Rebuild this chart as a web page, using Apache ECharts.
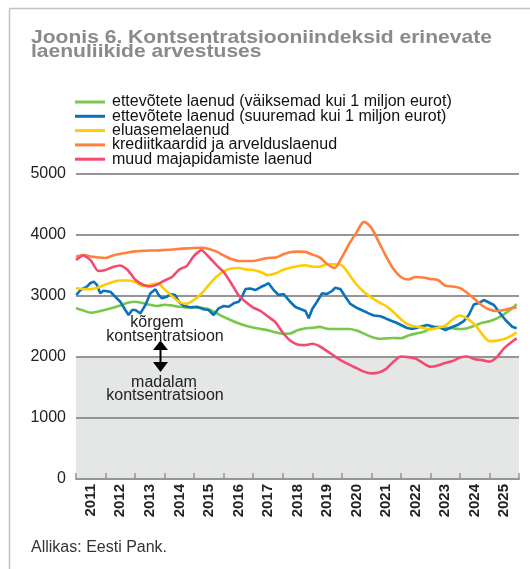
<!DOCTYPE html>
<html><head><meta charset="utf-8">
<script src="https://cdn.jsdelivr.net/npm/echarts@6/dist/echarts.min.js"></script>
<style>html,body{margin:0;padding:0;background:#fff}#c{width:530px;height:569px}</style>
</head><body><div id="c"></div>
<script>
const FONT = '"Liberation Sans", Arial, Helvetica, sans-serif';
const yearLabels = ['2011','2012','2013','2014','2015','2016','2017','2018','2019','2020','2021','2022','2023','2024','2025'];
const quarterDates = [2011.00,2011.25,2011.50,2011.75,2012.00,2012.25,2012.50,2012.75,2013.00,2013.25,2013.50,2013.75,
  2014.00,2014.25,2014.50,2014.75,2015.00,2015.25,2015.50,2015.75,2016.00,2016.25,2016.50,2016.75,
  2017.00,2017.25,2017.50,2017.75,2018.00,2018.25,2018.50,2018.75,2019.00,2019.25,2019.50,2019.75,
  2020.00,2020.25,2020.50,2020.75,2021.00,2021.25,2021.50,2021.75,2022.00,2022.25,2022.50,2022.75,
  2023.00,2023.25,2023.50,2023.75,2024.00,2024.25,2024.50,2024.75,2025.00,2025.25,2025.50,2025.75,2025.92];
const smallFirms = [2798,2762,2726,2745,2775,2808,2844,2890,2905,2885,2855,2836,2857,2844,2823,2814,2814,2806,2782,2721,
  2658,2603,2553,2514,2483,2460,2437,2406,2379,2386,2437,2468,2478,2494,2463,2458,2458,2458,2433,2384,
  2330,2300,2305,2312,2307,2351,2383,2409,2466,2494,2483,2470,2458,2473,2514,2560,2586,2634,2704,2790,2864];
const housing = [3126,3115,3112,3140,3189,3230,3254,3254,3230,3164,3181,3205,3110,3000,2901,2874,2938,3041,3181,3312,
  3402,3452,3460,3435,3427,3394,3345,3369,3427,3463,3489,3504,3484,3479,3520,3520,3501,3353,3189,3066,
  2975,2901,2836,2737,2622,2532,2499,2479,2450,2479,2516,2614,2680,2630,2532,2376,2261,2269,2294,2351,2404];
const cards = [3645,3673,3649,3632,3624,3665,3690,3714,3731,3739,3747,3747,3755,3763,3772,3780,3788,3791,3772,3731,
  3665,3607,3575,3575,3575,3599,3624,3629,3681,3717,3727,3723,3681,3632,3525,3460,3632,3854,4043,4215,
  4117,3887,3649,3443,3312,3271,3312,3304,3279,3263,3172,3156,3131,3049,2951,2844,2778,2754,2770,2803,2808];
const otherHousehold = [3591,3665,3583,3410,3427,3476,3501,3427,3271,3189,3156,3189,3254,3312,3435,3493,3660,3750,3640,3509,
  3394,3213,3016,2901,2811,2754,2663,2573,2401,2269,2204,2195,2217,2176,2097,2015,1938,1875,1818,1760,
  1731,1744,1805,1924,2007,1998,1974,1900,1839,1859,1900,1933,1990,2007,1962,1949,1924,1998,2146,2245,2305];
const largeFirmDates = [2011.01,2011.15,2011.37,2011.48,2011.60,2011.71,2011.77,2011.82,2011.93,2012.16,2012.27,2012.50,
  2012.67,2012.78,2012.90,2013.01,2013.18,2013.35,2013.52,2013.69,2013.80,2013.91,2014.08,2014.19,2014.36,2014.48,
  2014.65,2014.87,2015.10,2015.32,2015.49,2015.66,2015.83,2016.00,2016.17,2016.34,2016.51,2016.62,2016.74,2016.90,
  2017.07,2017.24,2017.41,2017.52,2017.69,2017.86,2018.03,2018.26,2018.43,2018.60,2018.77,2018.88,2019.00,2019.16,
  2019.33,2019.50,2019.67,2019.78,2019.95,2020.12,2020.29,2020.52,2020.74,2020.91,2021.08,2021.31,2021.48,2021.65,
  2021.87,2022.04,2022.21,2022.38,2022.55,2022.66,2022.89,2023.11,2023.34,2023.51,2023.68,2023.91,2024.13,2024.30,
  2024.47,2024.64,2024.81,2024.98,2025.15,2025.32,2025.54,2025.77,2025.92];
const largeFirms = [3016,3098,3153,3209,3235,3181,3209,3044,3087,3071,3016,2906,
  2770,2688,2770,2770,2716,2852,3044,3110,3016,2962,2988,3033,3016,2906,
  2836,2814,2824,2782,2770,2688,2798,2836,2824,2880,2906,2988,3115,3123,
  3098,3143,3181,3209,3098,3016,3033,2901,2819,2787,2754,2634,2787,2906,
  3044,3033,3082,3136,3115,2988,2869,2803,2754,2716,2680,2667,2634,2598,
  2557,2516,2475,2458,2479,2496,2524,2496,2479,2442,2479,2524,2589,2688,
  2860,2885,2934,2893,2852,2742,2606,2496,2470];
const seriesNames = ['ettevõtete laenud (väiksemad kui 1 miljon eurot)','ettevõtete laenud (suuremad kui 1 miljon eurot)',
  'eluasemelaenud','krediitkaardid ja arvelduslaenud','muud majapidamiste laenud'];
const colors = ['#77c84b','#0a72b9','#ffcc00','#ff7f3c','#f24a70'];

const pair = (d, v) => d.map((x, i) => [x, v[i]]);
const chart = echarts.init(document.getElementById('c'));
const lineSeries = (name, color, data, smooth) => ({
  name, type: 'line', data, xAxisIndex: 0, showSymbol: false, smooth, z: 10,
  lineStyle: { color, width: 2.6 }, itemStyle: { color }, emphasis: { disabled: true }
});
const gz = 100;
const GRID_COLOR = '#959595';
chart.setOption({
  animation: false,
  textStyle: { fontFamily: FONT },
  grid: { left: 76, right: 11, top: 174, bottom: 90 },
  legend: {
    data: seriesNames, orient: 'vertical', left: 75, top: 94, padding: 0, icon: 'rect',
    itemWidth: 30, itemHeight: 3, itemGap: -1.7, selectedMode: false,
    textStyle: { fontSize: 16, lineHeight: 16, color: '#111', fontFamily: FONT, padding: [0, 0, 0, 2] }
  },
  xAxis: [
    { type: 'value', min: 2011, max: 2026, interval: 1,
      axisLine: { lineStyle: { color: GRID_COLOR, width: 2 } },
      axisTick: { inside: true, length: 6, lineStyle: { color: GRID_COLOR, width: 1.5 } },
      axisLabel: { show: false }, splitLine: { show: false }, z: 6 },
    { type: 'category', data: yearLabels, position: 'bottom', boundaryGap: true,
      axisLine: { show: false }, axisTick: { show: false }, splitLine: { show: false },
      axisLabel: { rotate: 90, fontWeight: 'bold', fontSize: 15, color: '#222', margin: 5, fontFamily: FONT } }
  ],
  yAxis: { type: 'value', min: 0, max: 5000, interval: 1000, z: 4,
    axisLine: { show: false }, axisTick: { show: false },
    axisLabel: { fontSize: 16, color: '#222', margin: 10, fontFamily: FONT, formatter: v => String(v) },
    splitLine: { show: true, lineStyle: { color: GRID_COLOR, width: 2 } } },
  series: [
    { type: 'line', data: [[2011, 0]], xAxisIndex: 0, showSymbol: false, z: 0, lineStyle: { width: 0 }, silent: true,
      markArea: { silent: true, z: 1, itemStyle: { color: '#e5e6e6' }, data: [[{ yAxis: 0 }, { yAxis: 2000 }]] } },
    lineSeries(seriesNames[0], colors[0], pair(quarterDates, smallFirms), 0.3),
    lineSeries(seriesNames[1], colors[1], pair(largeFirmDates, largeFirms), false),
    lineSeries(seriesNames[2], colors[2], pair(quarterDates, housing), 0.3),
    lineSeries(seriesNames[3], colors[3], pair(quarterDates, cards), 0.3),
    lineSeries(seriesNames[4], colors[4], pair(quarterDates, otherHousehold), 0.2)
  ],
  graphic: [
    { type: 'line', z: gz, shape: { x1: 9.5, y1: 8.5, x2: 530, y2: 8.5 }, style: { stroke: '#c2c2c2', lineWidth: 1.5 } },
    { type: 'line', z: gz, shape: { x1: 9.5, y1: 8.5, x2: 9.5, y2: 569 }, style: { stroke: '#c2c2c2', lineWidth: 1.5 } },
    { type: 'text', z: gz, x: 31, y: 30.5, scaleX: 1.108, style: { text: 'Joonis 6. Kontsentratsiooniindeksid erinevate\nlaenuliikide arvestuses',
      font: 'bold 19px ' + FONT, lineHeight: 14, fill: '#8a8a8a', verticalAlign: 'top', align: 'left' } },
    { type: 'text', z: gz, x: 157, y: 331, style: { text: 'kõrgem', font: '16px ' + FONT, fill: '#222', align: 'center', verticalAlign: 'bottom' } },
    { type: 'text', z: gz, x: 165, y: 345, style: { text: 'kontsentratsioon', font: '16px ' + FONT, fill: '#222', align: 'center', verticalAlign: 'bottom' } },
    { type: 'text', z: gz, x: 164, y: 391, style: { text: 'madalam', font: '16px ' + FONT, fill: '#222', align: 'center', verticalAlign: 'bottom' } },
    { type: 'text', z: gz, x: 165, y: 404, style: { text: 'kontsentratsioon', font: '16px ' + FONT, fill: '#222', align: 'center', verticalAlign: 'bottom' } },
    { type: 'line', z: gz, shape: { x1: 160.5, y1: 348, x2: 160.5, y2: 364 }, style: { stroke: '#000', lineWidth: 2 } },
    { type: 'polygon', z: gz, shape: { points: [[160.5, 340.5], [153, 350], [168, 350]] }, style: { fill: '#000' } },
    { type: 'polygon', z: gz, shape: { points: [[160.5, 372], [153, 362], [168, 362]] }, style: { fill: '#000' } },
    { type: 'text', z: gz, left: 31, top: 540, style: { text: 'Allikas: Eesti Pank.', font: '16px ' + FONT, fill: '#333' } }
  ]
});
</script></body></html>
